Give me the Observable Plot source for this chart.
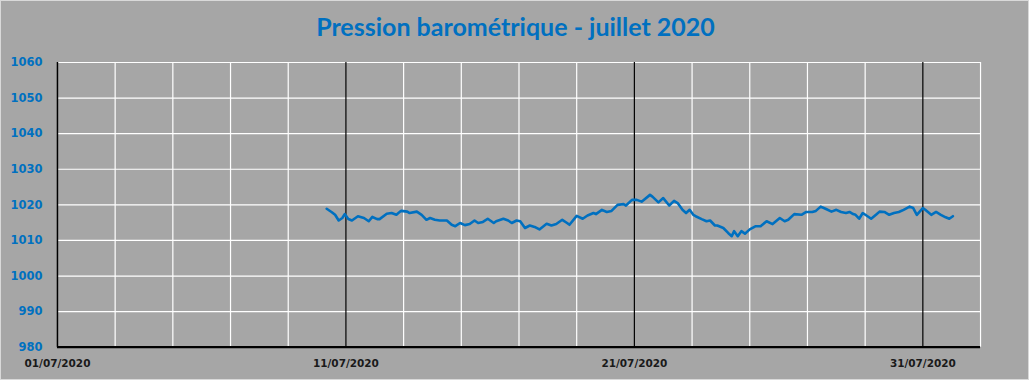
<!DOCTYPE html>
<html>
<head>
<meta charset="utf-8">
<script src="https://cdn.jsdelivr.net/npm/d3@7"></script>
<script src="https://cdn.jsdelivr.net/npm/@observablehq/plot@0.6"></script>
<style>
  html, body { margin: 0; padding: 0; background: #A6A6A6; }
  #frame { width: 1029px; height: 380px; box-sizing: border-box; border: 1px solid #D9D9D9; position: relative; overflow: hidden; background: #A6A6A6; }
  #titre { position: absolute; left: 0; top: 0; width: 1029px; height: 50px; line-height: 50px; text-align: center;
           font-family: Lato, "Open Sans", sans-serif; font-weight: 700; font-size: 25px; color: #0070C0; }
  #chart { position: absolute; left: -1px; top: 49px; }
</style>
</head>
<body>
<div id="frame">
  <div id="titre">Pression barométrique - juillet 2020</div>
  <div id="chart"></div>
</div>
<script>
// Heures écoulées depuis le 01/07/2020 00:00
const heures = [224,228,231,234,237,239,242,245,250,255,259,262,266,268,274,278,282,285,286,291,293,299,303,307,310,314,318,324,328,331,335,339,343,
  347,350,354,358,363,365,371,375,378,382,385,389,393,397,401,407,411,415,420,424,426,432,437,441,446,448,453,457,461,466,471,473,
  478,482,486,493,495,500,504,509,513,516,520,523,526,529,531,536,540,543,547,549,554,558,561,563,566,569,572,576,581,585,590,595,601,605,608,
  613,619,623,628,631,635,639,644,648,652,656,659,662,664,667,670,674,677,681,684,688,692,696,700,704,709,712,715,720,722,727,731,735,739,742,745];
// Pression (hPa)
const pression = [1018.9,1018.0,1017.2,1015.6,1016.3,1017.4,1016.0,1015.6,1016.8,1016.3,1015.4,1016.6,1016.0,1016.0,1017.5,1017.7,1017.2,1018.1,1018.3,1018.1,1017.7,1018.1,1017.2,1015.8,1016.3,1015.8,1015.6,1015.6,1014.4,1014.0,1014.9,1014.3,1014.6,
  1015.6,1014.9,1015.2,1016.1,1014.9,1015.4,1016.1,1015.6,1014.9,1015.6,1015.4,1013.5,1014.2,1013.8,1013.1,1014.7,1014.2,1014.6,1015.8,1014.9,1014.4,1016.9,1016.1,1017.0,1017.7,1017.4,1018.6,1018.0,1018.3,1020.0,1020.2,1019.8,
  1021.4,1021.4,1020.9,1022.8,1022.3,1020.7,1021.9,1019.8,1021.1,1020.5,1018.6,1017.7,1018.6,1017.2,1016.8,1016.0,1015.4,1015.6,1014.2,1014.2,1013.5,1012.1,1011.2,1012.6,1011.2,1012.6,1011.9,1013.1,1014.0,1014.0,1015.4,1014.6,1016.3,1015.4,1015.8,
  1017.4,1017.2,1018.0,1018.0,1018.3,1019.5,1018.9,1018.1,1018.6,1018.0,1017.7,1018.0,1017.4,1017.2,1016.1,1017.7,1016.8,1016.1,1017.2,1018.1,1018.0,1017.2,1017.7,1018.0,1018.6,1019.5,1019.1,1017.2,1019.1,1018.6,1017.2,1018.0,1017.2,1016.5,1016.1,1016.8];

const debut = new Date(Date.UTC(2020, 6, 1));
const fin = new Date(Date.UTC(2020, 7, 2));
const ticksY = [980, 990, 1000, 1010, 1020, 1030, 1040, 1050, 1060];
const joursEtiquettes = ["2020-07-01", "2020-07-11", "2020-07-21", "2020-07-31"];
const joursGrille = ["2020-07-03","2020-07-05","2020-07-07","2020-07-09","2020-07-13","2020-07-15","2020-07-17","2020-07-19",
  "2020-07-23","2020-07-25","2020-07-27","2020-07-29","2020-08-02"];
const joursNoirs = ["2020-07-11", "2020-07-21", "2020-07-31"];

const data = heures.map((h, i) => ({date: d3.utcHour.offset(debut, h), p: pression[i]}));
const parse = d3.utcParse("%Y-%m-%d");

const chart = Plot.plot({
  width: 1029,
  height: 331,
  marginLeft: 57,
  marginRight: 48,
  marginTop: 12,
  marginBottom: 34,
  style: {background: "transparent", fontFamily: "DejaVu Sans", fontSize: "11px", fontWeight: "bold", overflow: "visible"},
  x: {type: "utc", domain: [debut, fin]},
  y: {domain: [980, 1060]},
  marks: [
    Plot.ruleY(ticksY.slice(1), {stroke: "white", strokeWidth: 1.2}),
    Plot.ruleX(joursGrille.map(parse), {stroke: "white", strokeWidth: 1.2}),
    Plot.ruleX(joursNoirs.map(parse), {stroke: "black", strokeWidth: 1.2}),
    Plot.ruleX([debut], {stroke: "black", strokeWidth: 1.5}),
    Plot.ruleY([980], {stroke: "black", strokeWidth: 2.2}),
    Plot.axisY({ticks: ticksY, tickSize: 0, tickPadding: 15, label: null, tickFormat: d3.format("d"), fill: "#0070C0", fontSize: 11.5}),
    Plot.axisX({ticks: joursEtiquettes.map(parse), tickSize: 0, tickPadding: 12, label: null, tickFormat: d3.utcFormat("%d/%m/%Y"), fill: "#1a1a1a", fontSize: 10.5}),
    Plot.line(data, {x: "date", y: "p", stroke: "#0070C0", strokeWidth: 2.6, curve: "linear"})
  ]
});
document.getElementById("chart").appendChild(chart);
</script>
</body>
</html>
